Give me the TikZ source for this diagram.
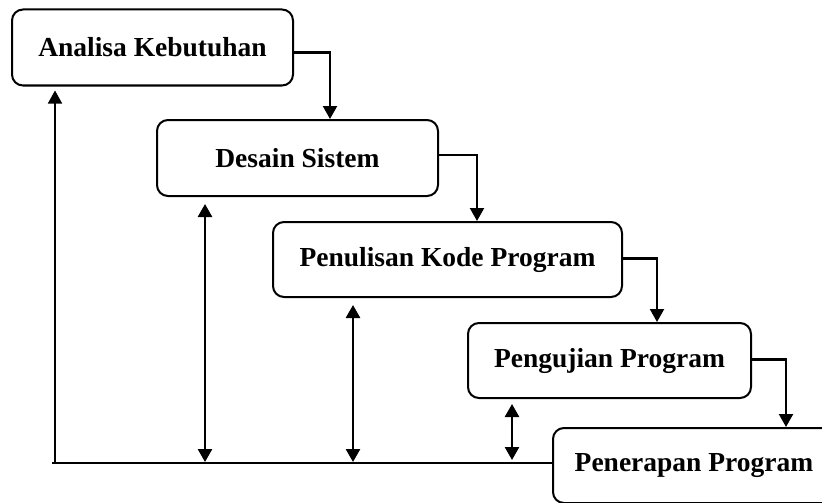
\documentclass[tikz,border=0pt]{standalone}
\usepackage{fontspec}
\setmainfont{Liberation Serif}
\usetikzlibrary{arrows.meta}
\begin{document}
\begin{tikzpicture}[x=1pt,y=-1pt,
  stage/.style={draw, line width=2pt, rounded corners=11pt, inner sep=0pt,
    font=\fontsize{27.5}{31}\selectfont\bfseries, align=center},
  flow/.style={line width=2.2pt, -{Triangle[length=13pt,width=14pt]}},
  twoway/.style={line width=2.6pt, {Triangle[length=13pt,width=14pt]}-{Triangle[length=13pt,width=14pt]}},
  base/.style={line width=2.2pt}
]
\useasboundingbox (0,0) rectangle (822,503);
\node[stage, minimum width=281pt, minimum height=76pt] (b1) at (152.5,47.5) {Analisa Kebutuhan};
\node[stage, minimum width=281pt, minimum height=76pt] (b2) at (297.5,158) {Desain Sistem};
\node[stage, minimum width=349pt, minimum height=75pt] (b3) at (447.5,259.5) {Penulisan Kode Program};
\node[stage, minimum width=283pt, minimum height=75pt] (b4) at (609.5,360.5) {Pengujian Program};
\node[stage, minimum width=282pt, minimum height=75pt] (b5) at (694,465.5) {Penerapan Program};

\draw[flow] ([yshift=-5pt]b1.east) -| ([xshift=32.5pt]b2.north);
\draw[flow] ([yshift=3pt]b2.east) -| ([xshift=29.5pt]b3.north);
\draw[flow] ([yshift=1pt]b3.east) -| ([xshift=47.5pt]b4.north);
\draw[flow] ([yshift=1pt]b4.east) -| ([xshift=92pt]b5.north);

\coordinate (bl) at (52,463);
\coordinate (c0) at (55,463);
\coordinate (c1) at (205,463);
\coordinate (c2) at (353,463);
\coordinate (c3) at (512,463);
\draw[base] (bl) -- (bl -| b5.west);
\draw[flow, line width=1.6pt, shorten >=4pt] (c0) -- (c0 |- b1.south);
\draw[twoway, shorten >=7pt, shorten <=1pt] (c1) -- (c1 |- b2.south);
\draw[twoway, shorten >=7pt, shorten <=1pt] (c2) -- (c2 |- b3.south);
\draw[twoway, shorten >=5pt, shorten <=3pt] (c3) -- (c3 |- b4.south);
\end{tikzpicture}
\end{document}
